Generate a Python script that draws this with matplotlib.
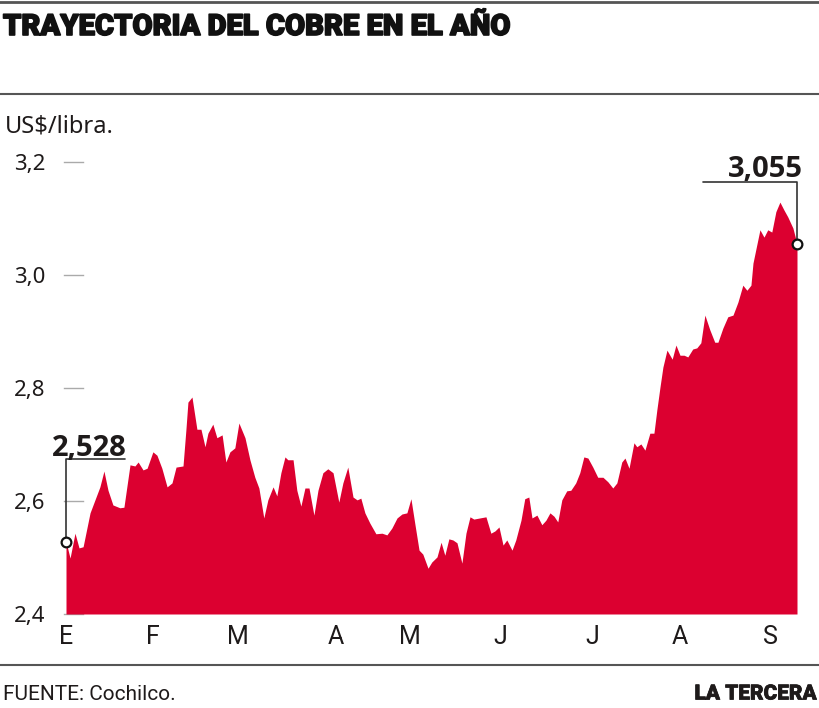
import matplotlib
matplotlib.use("Agg")
import matplotlib.pyplot as plt
from matplotlib.lines import Line2D
import matplotlib.patheffects as pe

# Copper price, US$/lb, day of year (2017)
days = [0, 1.4, 3.1, 4.5, 5.9, 8.3, 10.0, 11.7, 13.1, 14.5, 16.2, 18.6, 20.0, 22.1, 23.8,
        24.9, 26.6, 28.0, 30.0, 31.4, 33.1, 34.9, 36.6, 38.0, 40.4, 41.4, 42.1, 43.5, 45.2,
        46.6, 48.0, 49.0, 50.7, 52.1, 53.9, 55.2, 56.6, 58.3, 59.7, 61.8, 63.5, 65.2, 66.6,
        68.3, 69.7, 71.5, 72.8, 74.2, 75.6, 76.6, 78.4, 79.7, 81.1, 82.5, 83.9, 85.6, 87.0,
        88.7, 90.4, 92.2, 94.2, 95.6, 97.3, 99.1, 100.5, 101.8, 103.2, 104.9, 107.0, 109.1,
        110.8, 112.5, 114.3, 116.0, 117.7, 119.1, 120.5, 121.9, 123.2, 125.0, 126.3, 128.1,
        129.5, 130.8, 132.2, 133.6, 135.0, 136.7, 138.1, 139.5, 140.8, 142.9, 145.0, 146.7,
        148.1, 149.5, 150.9, 152.2, 154.0, 155.3, 157.1, 158.4, 159.8, 160.9, 162.6, 164.3,
        165.7, 167.1, 168.5, 169.8, 171.2, 172.9, 174.3, 176.0, 177.4, 178.8, 180.2, 181.9,
        183.6, 185.4, 187.1, 188.8, 190.2, 191.9, 193.0, 194.4, 196.1, 197.1, 198.5, 199.9,
        201.6, 203.0, 204.0, 205.1, 206.1, 207.5, 209.3, 210.6, 212.0, 213.4, 214.7, 216.4,
        217.8, 219.2, 220.6, 222.3, 224.0, 225.1, 226.8, 228.5, 230.3, 232.0, 233.7, 235.1,
        236.5, 237.2, 238.5, 239.6, 241.0, 242.3, 243.7, 245.1, 246.5, 247.9, 249.2, 251.0,
        252.4]
price = [2.528, 2.499, 2.543, 2.517, 2.519, 2.579, 2.602, 2.625, 2.653, 2.619, 2.593, 2.588,
         2.589, 2.664, 2.662, 2.669, 2.655, 2.658, 2.687, 2.681, 2.658, 2.625, 2.632, 2.660,
         2.662, 2.726, 2.775, 2.784, 2.727, 2.727, 2.696, 2.720, 2.736, 2.712, 2.717, 2.669,
         2.687, 2.694, 2.738, 2.712, 2.673, 2.642, 2.623, 2.570, 2.602, 2.625, 2.609, 2.650,
         2.678, 2.673, 2.673, 2.619, 2.591, 2.623, 2.623, 2.575, 2.619, 2.650, 2.657, 2.650,
         2.598, 2.632, 2.660, 2.607, 2.602, 2.605, 2.579, 2.561, 2.542, 2.543, 2.540, 2.552,
         2.570, 2.577, 2.579, 2.604, 2.558, 2.513, 2.506, 2.481, 2.492, 2.501, 2.527, 2.504,
         2.533, 2.531, 2.526, 2.490, 2.543, 2.572, 2.568, 2.570, 2.572, 2.543, 2.547, 2.554,
         2.522, 2.531, 2.513, 2.531, 2.566, 2.604, 2.607, 2.570, 2.575, 2.558, 2.566, 2.579,
         2.573, 2.563, 2.602, 2.618, 2.619, 2.632, 2.650, 2.678, 2.676, 2.660, 2.642, 2.642,
         2.634, 2.623, 2.632, 2.669, 2.676, 2.658, 2.703, 2.696, 2.701, 2.690, 2.720, 2.720,
         2.761, 2.802, 2.837, 2.867, 2.851, 2.876, 2.858, 2.858, 2.855, 2.869, 2.871, 2.880,
         2.929, 2.903, 2.881, 2.881, 2.906, 2.926, 2.929, 2.952, 2.982, 2.973, 2.982, 3.021,
         3.053, 3.080, 3.067, 3.080, 3.076, 3.112, 3.129, 3.115, 3.103, 3.083, 3.055]

month_pos = [0, 30, 59.4, 93.2, 118.8, 149.8, 181.6, 212, 243.4]
month_labels = ['E', 'F', 'M', 'A', 'M', 'J', 'J', 'A', 'S']
y_ticks = [2.4, 2.6, 2.8, 3.0, 3.2]
y_labels = ['2,4', '2,6', '2,8', '3,0', '3,2']

RED = '#dc0030'
INK = '#1e1a1a'
GREY = '#555555'
W, H = 820, 708

fig = plt.figure(figsize=(W / 100, H / 100), dpi=100)
ax = fig.add_axes([66 / W, (H - 614) / H, (797 - 66) / W, (614 - 162) / H])

ax.fill_between(days, price, y_ticks[0], color=RED, lw=0, zorder=2)
ax.set_xlim(days[0], days[-1])
ax.set_ylim(y_ticks[0], y_ticks[-1])
for s in ax.spines.values():
    s.set_visible(False)

# small grey dashes at each y level
for v in y_ticks:
    ax.plot([-0.003, 0.023], [v, v], transform=ax.get_yaxis_transform(),
            color='#aaaaaa', lw=1.0, clip_on=False, zorder=1)

ax.set_yticks(y_ticks)
ax.set_yticklabels(y_labels, family='Noto Sans', fontsize=16, color=INK)
ax.tick_params(axis='y', length=0, pad=15)
ax.set_xticks(month_pos)
ax.set_xticklabels(month_labels, family='Roboto', fontsize=18, color=INK)
ax.tick_params(axis='x', length=0, pad=8)

# first / last value callouts
for i, dx, dy, tdx, tdy in [(0, 59, 83, 23, 86), (-1, -94, 62, -32, 67)]:
    d, v = days[i], price[i]
    ax.annotate('', xy=(d, v), xytext=(dx * 0.72, dy * 0.72), textcoords='offset points',
                arrowprops=dict(arrowstyle='-', connectionstyle='angle,angleA=0,angleB=90,rad=0',
                                shrinkA=0, shrinkB=3, color='#333333', lw=1.2),
                annotation_clip=False)
    ax.annotate(f'{v:.3f}'.replace('.', ','), xy=(d, v), xytext=(tdx * 0.72, tdy * 0.72),
                textcoords='offset points', ha='center', va='baseline',
                family='Open Sans', fontweight='bold', fontsize=21, color=INK,
                annotation_clip=False)
    ax.plot([d], [v], 'o', ms=7, mfc='white', mec='#111111', mew=1.6, clip_on=False, zorder=5)

# rules
for y, lw in [(2, 2.0), (94, 1.5), (665, 1.5)]:
    fig.add_artist(Line2D([0, 1], [1 - y / H, 1 - y / H], transform=fig.transFigure,
                          color=GREY, lw=lw))

fig.text(3 / W, 1 - 27 / H, 'TRAYECTORIA DEL COBRE EN EL AÑO', family='Roboto',
         fontweight='black', fontsize=21, color='#111111', va='center',
         path_effects=[pe.withStroke(linewidth=1.2, foreground='#111111')])
fig.text(5 / W, 1 - 126 / H, 'US$/libra.', family='Noto Sans', fontsize=17, color=INK,
         va='center')
fig.text(3 / W, 1 - 694 / H, 'FUENTE: Cochilco.', family='Roboto',
         fontsize=15, color=INK, va='center')
fig.text(817 / W, 1 - 694 / H, 'LA TERCERA', family='Roboto', fontweight='black',
         fontsize=15, color=INK, va='center', ha='right',
         path_effects=[pe.withStroke(linewidth=0.5, foreground=INK)])

fig.savefig('out.png', dpi=100)
